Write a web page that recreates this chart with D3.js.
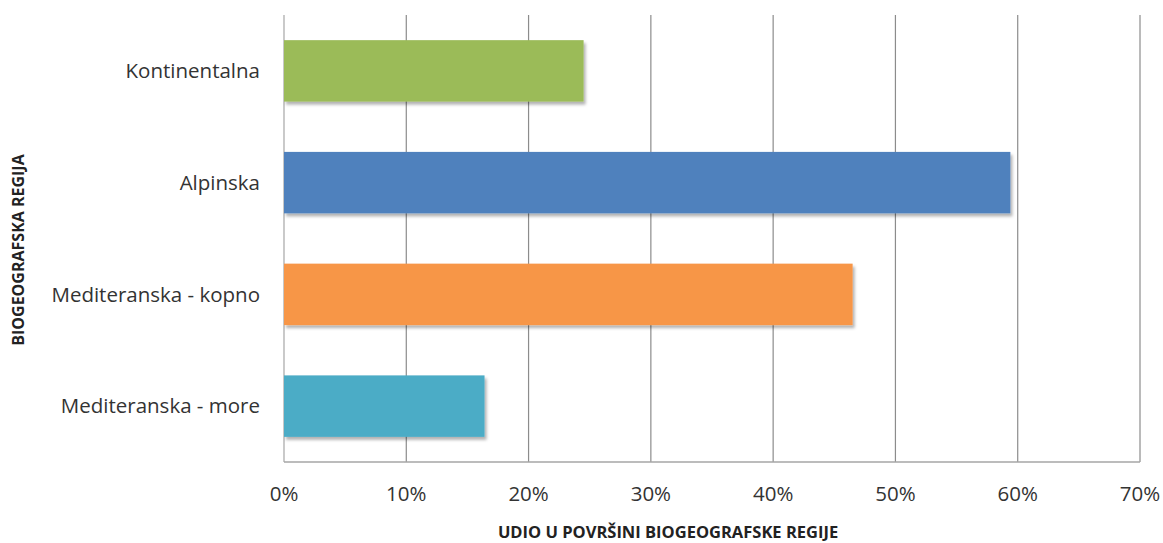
<!DOCTYPE html>
<html>
<head>
<meta charset="utf-8">
<script src="https://cdn.jsdelivr.net/npm/d3@7/dist/d3.min.js"></script>
<style>
  html, body { margin: 0; background: #fff; overflow: hidden; }
  svg { display: block; font-family: "Open Sans", "Noto Sans", sans-serif; }
  .tick-label { font-size: 20.5px; fill: #333; }
  .axis-title { font-size: 16px; font-weight: bold; fill: #222; }
</style>
</head>
<body>
<svg id="chart" width="1163" height="543"></svg>
<script>
const categories = ["Kontinentalna", "Alpinska", "Mediteranska - kopno", "Mediteranska - more"];
const shares = [0.245, 0.594, 0.465, 0.164];
const barColors = ["#9BBB59", "#4F81BD", "#F79646", "#4BACC6"];
const xTicks = [0, 0.1, 0.2, 0.3, 0.4, 0.5, 0.6, 0.7];

const width = 1163;
const height = 543;
const margin = { top: 15, right: 23, bottom: 81, left: 284 };
const innerWidth = width - margin.left - margin.right;
const innerHeight = height - margin.top - margin.bottom;

const svg = d3.select("#chart");

const defs = svg.append("defs");
const shadow = defs.append("filter")
  .attr("id", "shadow")
  .attr("x", "-5%").attr("y", "-20%")
  .attr("width", "115%").attr("height", "150%");
shadow.append("feDropShadow")
  .attr("dx", 2).attr("dy", 3)
  .attr("stdDeviation", 1.5)
  .attr("flood-color", "#000")
  .attr("flood-opacity", 0.3);

const g = svg.append("g")
  .attr("transform", `translate(${margin.left},${margin.top})`);

const x = d3.scaleLinear().domain([0, 0.7]).range([0, innerWidth]);
const y = d3.scaleBand().domain(categories).range([0, innerHeight]).paddingInner(0.45).paddingOuter(0.225);

// grid lines
g.append("g")
  .selectAll("line")
  .data(xTicks)
  .join("line")
  .attr("x1", (d) => x(d))
  .attr("x2", (d) => x(d))
  .attr("y1", 0)
  .attr("y2", innerHeight)
  .attr("stroke", (d) => (d === 0 ? "#a6a6a6" : "#8c8c8c"))
  .attr("stroke-width", 1.2);

// baseline
g.append("line")
  .attr("x1", 0)
  .attr("x2", innerWidth)
  .attr("y1", innerHeight)
  .attr("y2", innerHeight)
  .attr("stroke", "#a6a6a6")
  .attr("stroke-width", 1.5);

// bars
g.append("g")
  .selectAll("rect")
  .data(categories)
  .join("rect")
  .attr("x", 0)
  .attr("y", (d) => y(d))
  .attr("width", (d, i) => x(shares[i]))
  .attr("height", y.bandwidth())
  .attr("fill", (d, i) => barColors[i])
  .attr("filter", "url(#shadow)");

// x tick labels
g.append("g")
  .selectAll("text")
  .data(xTicks)
  .join("text")
  .attr("class", "tick-label")
  .attr("x", (d) => x(d))
  .attr("y", innerHeight + 39)
  .attr("text-anchor", "middle")
  .text((d) => d3.format(".0%")(d));

// category labels
g.append("g")
  .selectAll("text")
  .data(categories)
  .join("text")
  .attr("class", "tick-label")
  .attr("x", -24)
  .attr("y", (d) => y(d) + y.bandwidth() / 2)
  .attr("dy", "0.35em")
  .attr("text-anchor", "end")
  .text((d) => d);

// axis titles
svg.append("text")
  .attr("class", "axis-title")
  .attr("x", 668)
  .attr("y", 538)
  .attr("text-anchor", "middle")
  .style("font-size", "16.5px")
  .text("UDIO U POVRŠINI BIOGEOGRAFSKE REGIJE");

svg.append("text")
  .attr("class", "axis-title")
  .attr("transform", "translate(24,250) rotate(-90)")
  .attr("text-anchor", "middle")
  .text("BIOGEOGRAFSKA REGIJA");
</script>
</body>
</html>
